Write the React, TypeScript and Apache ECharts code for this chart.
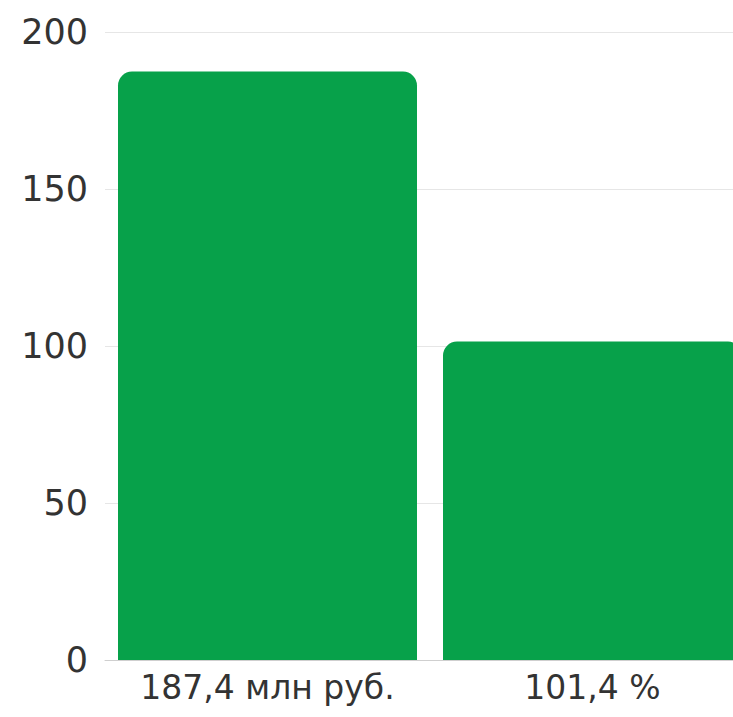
import React, { useEffect, useRef } from "react";
import * as echarts from "echarts";

const categories = ["187,4 млн руб.", "101,4 %"];
const values = [187.4, 101.4];
const yTicks = { min: 0, max: 200, interval: 50 };

export default function App() {
  const ref = useRef<HTMLDivElement>(null);
  useEffect(() => {
    if (!ref.current) return;
    const chart = echarts.init(ref.current, undefined, { renderer: "svg" });
    chart.setOption({
      animation: false,
      backgroundColor: "#ffffff",
      grid: { left: 105, right: 25, top: 32, bottom: 57, containLabel: false },
      xAxis: {
        type: "category",
        data: categories,
        axisLine: { show: true, lineStyle: { color: "#cfcfcf", width: 1 } },
        axisTick: { show: false },
        axisLabel: {
          interval: 0,
          hideOverlap: false,
          color: "#333333",
          fontFamily: "DejaVu Sans",
          fontSize: 33,
          margin: 11,
        },
      },
      yAxis: {
        type: "value",
        min: yTicks.min,
        max: yTicks.max,
        interval: yTicks.interval,
        axisLine: { show: false },
        axisTick: { show: false },
        splitLine: { lineStyle: { color: "#e6e6e6", width: 1 } },
        axisLabel: {
          color: "#333333",
          fontFamily: "DejaVu Sans",
          fontSize: 35,
          margin: 17,
        },
      },
      series: [
        {
          type: "bar",
          data: values,
          barWidth: 299,
          itemStyle: { color: "#07a14a", borderRadius: [14, 14, 0, 0] },
        },
      ],
    });
    return () => chart.dispose();
  }, []);
  return (
    <div style={{ position: "fixed", left: 0, top: 0, width: 733, height: 717, overflow: "hidden", background: "#fff" }}>
      <div ref={ref} style={{ width: 780, height: 717 }} />
    </div>
  );
}
